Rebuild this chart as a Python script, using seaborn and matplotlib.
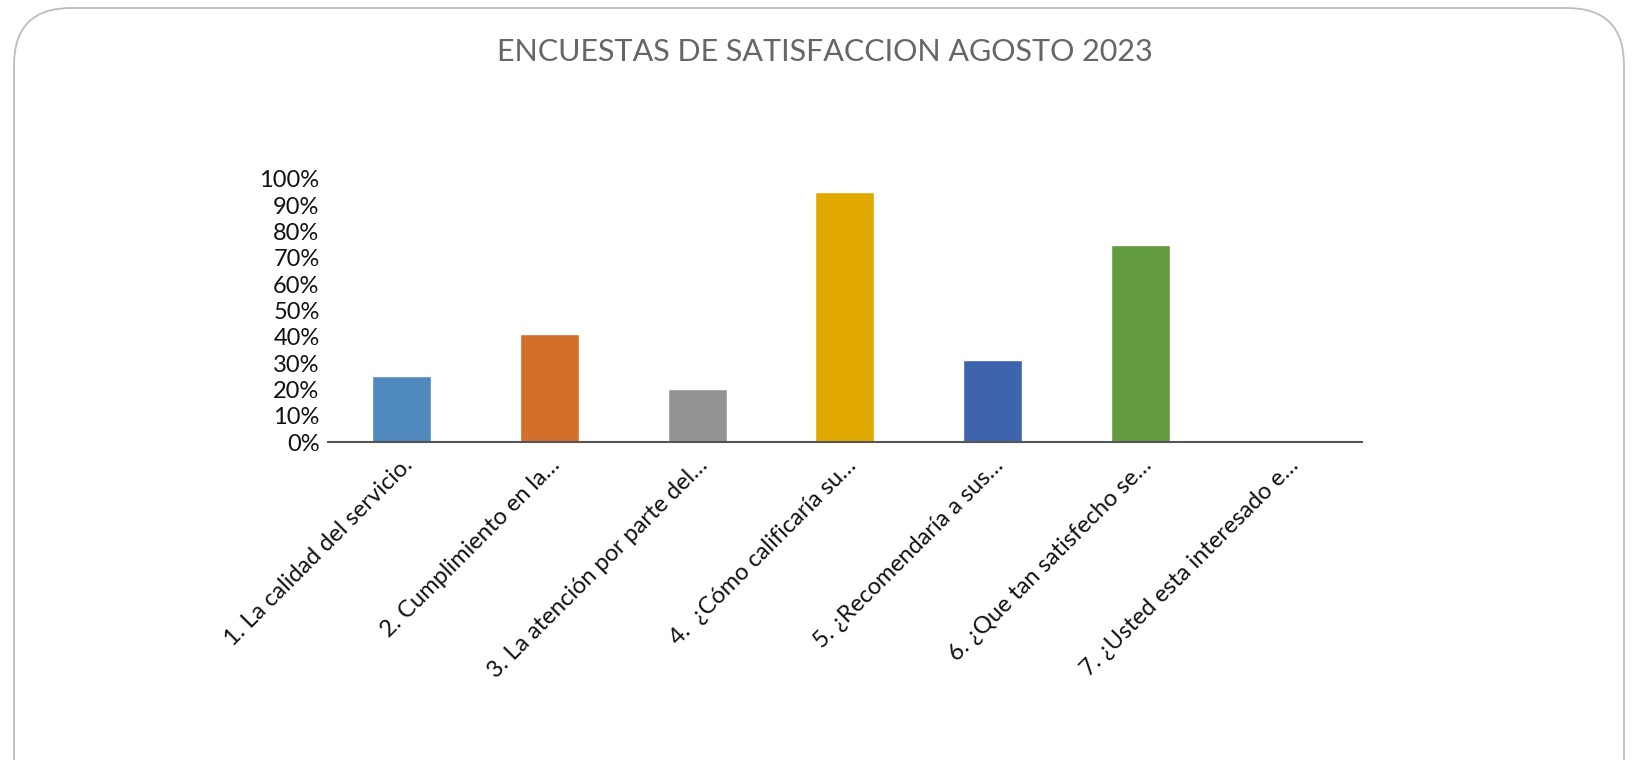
import matplotlib
matplotlib.use("Agg")
import matplotlib.pyplot as plt
from matplotlib.patches import FancyBboxPatch
from matplotlib.ticker import PercentFormatter
import pandas as pd
import seaborn as sns

# survey questions (labels truncated as in the original chart)
preguntas = [
    "1. La calidad del servicio.",
    "2. Cumplimiento en la…",
    "3. La atención por parte del…",
    "4.  ¿Cómo calificaría su…",
    "5. ¿Recomendaría a sus…",
    "6. ¿Que tan satisfecho se…",
    "7. ¿Usted esta interesado e…",
]
porcentajes = [0.25, 0.41, 0.20, 0.95, 0.31, 0.75, 0.0]
colores = ["#4F89BD", "#D36E2B", "#939393", "#E2AA00", "#3D64AD", "#629A3F", "#2B5B8C"]

df = pd.DataFrame({"pregunta": preguntas, "pct": porcentajes})

sns.set_style("white")
plt.rcParams["font.family"] = ["Lato", "DejaVu Sans"]

fig = plt.figure(figsize=(16.34, 7.6), dpi=100)

# rounded chart-area border like the Excel frame
frame = FancyBboxPatch((14 / 1634, -0.2), 1610 / 1634, 0.2 + 752 / 760,
                       boxstyle="round,pad=0,rounding_size=0.035",
                       transform=fig.transFigure, facecolor="none",
                       edgecolor="#BDBDBD", linewidth=1.3, mutation_aspect=2.15)
fig.patches.append(frame)

ax = fig.add_axes([0.2007, 0.4184, 0.6328, 0.3461])
sns.barplot(data=df, x="pregunta", y="pct", hue="pregunta", palette=colores,
            width=0.40, legend=False, ax=ax, saturation=1)

ax.set_ylim(0, 1.0)
ax.set_xlim(-0.5, len(preguntas) - 0.5)
ax.set_yticks([i / 10 for i in range(11)])
ax.yaxis.set_major_formatter(PercentFormatter(1.0, decimals=0))
ax.tick_params(axis="y", labelsize=17, length=0, pad=6, colors="#111111")
ax.tick_params(axis="x", labelsize=17, length=0, pad=9, colors="#111111")
ax.set_xticks(range(len(preguntas)))
ax.set_xticklabels(preguntas, rotation=45, ha="right", rotation_mode="anchor")
ax.set_xlabel("")
ax.set_ylabel("")
for side in ["top", "right", "left"]:
    ax.spines[side].set_visible(False)
ax.spines["bottom"].set_color("#555555")
ax.spines["bottom"].set_linewidth(1.5)
ax.patch.set_alpha(0)

fig.text(825 / 1634, 1 - 52 / 760, "ENCUESTAS DE SATISFACCION AGOSTO 2023",
         ha="center", va="center", fontsize=22, color="#666666")

fig.savefig("out.png", dpi=100)
